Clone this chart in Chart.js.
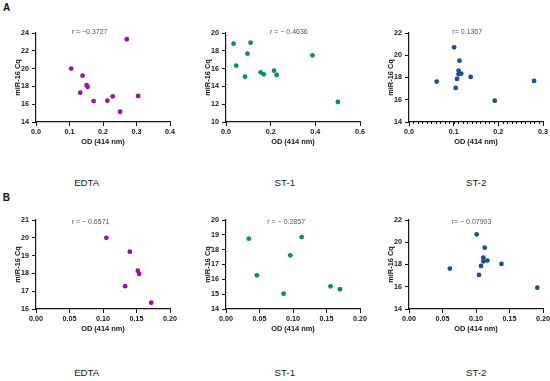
<!DOCTYPE html>
<html><head><meta charset="utf-8">
<script src="https://cdn.jsdelivr.net/npm/chart.js@4.4.1/dist/chart.umd.min.js"></script>
<style>
html,body{margin:0;padding:0;background:#fff;width:550px;height:381px;overflow:hidden;font-family:"Liberation Sans",Arial,sans-serif;}
canvas{position:absolute;}
.t{position:absolute;white-space:nowrap;transform:translate(-50%,-50%);color:#1a1a1a;line-height:1;}
.r{position:absolute;white-space:nowrap;transform:translate(0,-50%);color:#555;font-size:7px;line-height:1;}
</style></head><body>
<script>
// ---- data ----
const xTitle = 'OD (414 nm)';
const yTitle = 'miR-16 Cq';
const groups = ['EDTA', 'ST-1', 'ST-2'];
const panelLetters = ['A', 'B'];

const edtaA_x = [0.105, 0.139, 0.151, 0.154, 0.132, 0.172, 0.213, 0.229, 0.251, 0.271, 0.305];
const edtaA_y = [20.0, 19.2, 18.15, 17.95, 17.3, 16.35, 16.4, 16.88, 15.15, 23.3, 16.92];
const st1A_x = [0.034, 0.046, 0.085, 0.096, 0.110, 0.155, 0.169, 0.215, 0.227, 0.387, 0.501];
const st1A_y = [18.8, 16.33, 15.09, 17.68, 18.91, 15.58, 15.36, 15.77, 15.28, 17.49, 12.25];
const st2A_x = [0.062, 0.101, 0.1045, 0.1075, 0.111, 0.111, 0.113, 0.117, 0.138, 0.192, 0.280];
const st2A_y = [17.63, 20.71, 17.06, 17.87, 18.62, 18.29, 19.51, 18.35, 18.05, 15.92, 17.69];

const edtaB_x = [0.105, 0.140, 0.152, 0.154, 0.133, 0.172];
const edtaB_y = [20.0, 19.22, 18.15, 17.97, 17.28, 16.35];
const st1B_x = [0.034, 0.046, 0.086, 0.096, 0.113, 0.156, 0.170];
const st1B_y = [18.74, 16.27, 15.03, 17.62, 18.85, 15.53, 15.33];
const st2B_x = [0.061, 0.101, 0.1045, 0.1075, 0.111, 0.111, 0.113, 0.117, 0.138, 0.1915];
const st2B_y = [17.63, 20.71, 17.06, 17.87, 18.62, 18.29, 19.51, 18.35, 18.05, 15.92];

const rLabelsA = ['r = \u22120.3727', 'r = \u2212 0.4636', 'r= 0.1367'];
const rLabelsB = ['r = \u2212 0.6571', 'r = \u2212 0.2857', 'r= \u2212 0.07903'];

// axis ranges / ticks
const xMaxA = [0.4, 0.6, 0.3], xStepA = [0.1, 0.2, 0.1];
const yMinA = [14, 10, 14], yMaxA = [24, 20, 22], yStepA = [2, 2, 2];
const xMaxB = [0.2, 0.2, 0.2], xStepB = [0.05, 0.05, 0.05];
const yMinB = [16, 14, 14], yMaxB = [21, 20, 22], yStepB = [1, 1, 2];

const colors = ['#97169a', '#0b9150', '#1c4f97'];

// ---- layout ----
const F = '"Liberation Sans", Arial, sans-serif';
const INK = '#161616';
const plotLeft = [36, 226, 409];
const plotTop = [33, 220];
const PW = 134, PH = 89, PADL = 36, PADT = 10, PADR = 10, PADB = 40;

const minorPlugin = {
  id: 'minorTicks',
  afterDraw(chart, args, opts) {
    if (!opts || !opts.step) return;
    const s = chart.scales.x, ctx = chart.ctx;
    ctx.save();
    ctx.strokeStyle = INK; ctx.lineWidth = 1;
    const n = Math.round((s.max - s.min) / opts.step);
    for (let i = 0; i <= n; i++) {
      const px = Math.round(s.getPixelForValue(s.min + i * opts.step)) + 0.5;
      ctx.beginPath(); ctx.moveTo(px, s.top); ctx.lineTo(px, s.top + 2); ctx.stroke();
    }
    ctx.restore();
  }
};

function addText(cls, txt, x, y, extra) {
  const d = document.createElement('div');
  d.className = cls; d.textContent = txt;
  d.style.left = x + 'px'; d.style.top = y + 'px';
  if (extra) Object.assign(d.style, extra);
  document.body.appendChild(d);
}

function panel(row, col, xs, ys, xmax, xstep, xdec, ymin, ymax, ystep, minor) {
  const cv = document.createElement('canvas');
  const w = PADL + PW + PADR, h = PADT + PH + PADB;
  cv.width = w; cv.height = h;
  cv.style.left = (plotLeft[col] - PADL) + 'px';
  cv.style.top = (plotTop[row] - PADT) + 'px';
  document.body.appendChild(cv);
  const tickFont = {family: F, size: 7.2, weight: 'bold'};
  const titleFont = {family: F, size: 7.4, weight: 'bold'};
  new Chart(cv, {
    type: 'scatter',
    data: {datasets: [{
      data: xs.map((v, i) => ({x: v, y: ys[i]})),
      backgroundColor: colors[col], borderWidth: 0, pointRadius: 2.4
    }]},
    options: {
      responsive: false, animation: false, events: [],
      layout: {padding: {left: 0, right: PADR, top: PADT, bottom: 0}},
      plugins: {legend: {display: false}, tooltip: {enabled: false}, minorTicks: {step: minor}},
      scales: {
        x: {
          type: 'linear', min: 0, max: xmax,
          afterFit: s => { s.height = PADB; },
          ticks: {stepSize: xstep, callback: v => Number(v).toFixed(xdec), font: tickFont, color: INK, padding: 2, maxRotation: 0, autoSkip: false},
          grid: {drawOnChartArea: false, tickLength: 4, color: INK, tickWidth: 1},
          border: {color: INK, width: 1.2},
          title: {display: true, text: xTitle, font: titleFont, color: INK, padding: {top: 0, bottom: 15.3}}
        },
        y: {
          type: 'linear', min: ymin, max: ymax,
          afterFit: s => { s.width = PADL; },
          ticks: {stepSize: ystep, callback: v => String(v), font: tickFont, color: INK, padding: 3, autoSkip: false},
          grid: {drawOnChartArea: false, tickLength: 4, color: INK, tickWidth: 1},
          border: {color: INK, width: 1.2},
          title: {display: true, text: yTitle, font: titleFont, color: INK, padding: {top: 13.6, bottom: 0}}
        }
      }
    },
    plugins: [minorPlugin]
  });
}

panel(0, 0, edtaA_x, edtaA_y, xMaxA[0], xStepA[0], 1, yMinA[0], yMaxA[0], yStepA[0], 0);
panel(0, 1, st1A_x, st1A_y, xMaxA[1], xStepA[1], 1, yMinA[1], yMaxA[1], yStepA[1], 0);
panel(0, 2, st2A_x, st2A_y, xMaxA[2], xStepA[2], 1, yMinA[2], yMaxA[2], yStepA[2], 0.01);
panel(1, 0, edtaB_x, edtaB_y, xMaxB[0], xStepB[0], 2, yMinB[0], yMaxB[0], yStepB[0], 0);
panel(1, 1, st1B_x, st1B_y, xMaxB[1], xStepB[1], 2, yMinB[1], yMaxB[1], yStepB[1], 0);
panel(1, 2, st2B_x, st2B_y, xMaxB[2], xStepB[2], 2, yMinB[2], yMaxB[2], yStepB[2], 0);

// panel letters
addText('t', panelLetters[0], 6.7, 8, {fontSize: '10px', fontWeight: 'bold', color: '#111'});
addText('t', panelLetters[1], 6.4, 197.7, {fontSize: '10px', fontWeight: 'bold', color: '#111'});
// group labels
const grpX = [86.7, 284.8, 476.2];
[182.7, 372.7].forEach(y => groups.forEach((g, i) => addText('t', g, grpX[i], y, {fontSize: '9.7px'})));
// r labels
const rxA = [71.7, 270, 452.3], rxB = [71.7, 267.3, 451.7];
rLabelsA.forEach((t, i) => addText('r', t, rxA[i], 31));
rLabelsB.forEach((t, i) => addText('r', t, rxB[i], 220.7));
</script>
</body></html>
